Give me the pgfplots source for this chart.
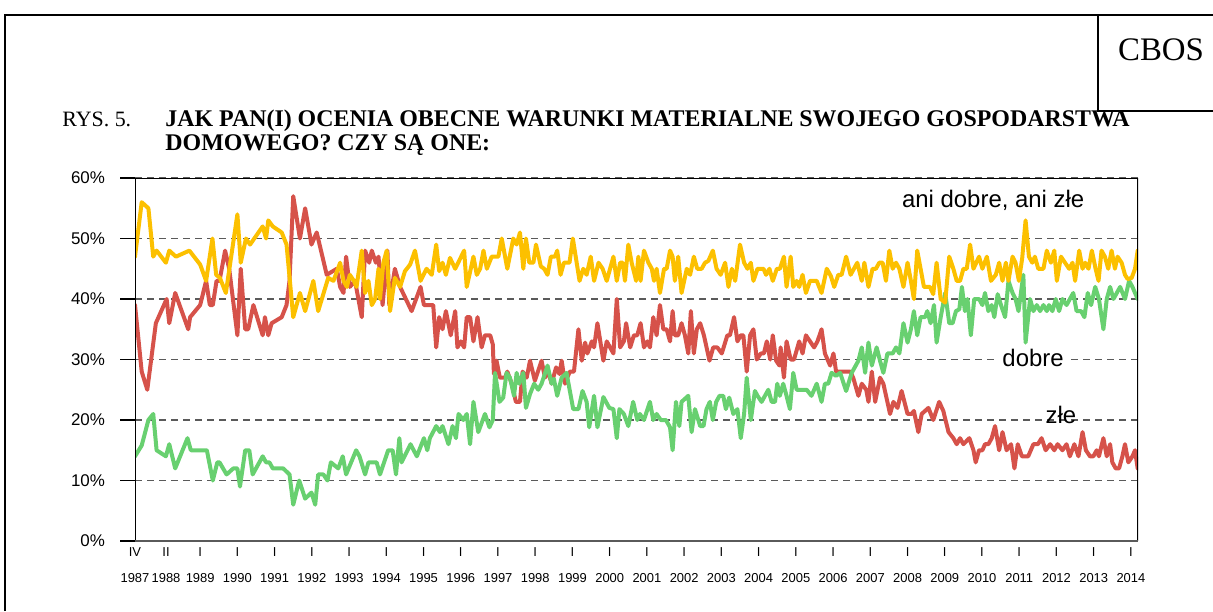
\documentclass[border=0pt]{standalone}
\usepackage{fontspec}
\setmainfont{Liberation Sans}
\newfontfamily\timesfont{Liberation Serif}
\usepackage{pgfplots}
\pgfplotsset{compat=1.18}
\definecolor{cyel}{RGB}{252,192,0}
\definecolor{cred}{RGB}{214,82,74}
\definecolor{cgrn}{RGB}{104,208,112}
\definecolor{cgrid}{RGB}{90,90,90}
\begin{document}
\begin{tikzpicture}[x=1bp,y=1bp]
\path[use as bounding box] (0,0) rectangle (606.5,305.5);
\draw[line width=1.2bp] (2.5,0) -- (2.5,298) -- (606.5,298);
\draw[line width=1.2bp] (549,298) -- (549,250) -- (606.5,250);
\node[font=\timesfont\fontsize{16.5}{18}\selectfont] at (580.5,280.5) {CBOS};
\node[anchor=base west, inner sep=0pt, font=\timesfont\fontsize{11}{13}\selectfont] at (31,242.5) {RYS. 5.};
\node[anchor=base west, inner sep=0pt, font=\timesfont\bfseries\fontsize{12}{13}\selectfont] at (82.5,242.5) {JAK PAN(I) OCENIA OBECNE WARUNKI MATERIALNE SWOJEGO GOSPODARSTWA};
\node[anchor=base west, inner sep=0pt, font=\timesfont\bfseries\fontsize{12}{13}\selectfont] at (82.5,230.5) {DOMOWEGO? CZY SĄ ONE:};
\begin{axis}[
  at={(67.5bp,35bp)}, anchor=south west, scale only axis,
  width=501.5bp, height=181.5bp,
  xmin=1987.25, xmax=2014.19, ymin=0, ymax=60,
  axis line style={draw=none},
  ytick={0,10,20,30,40,50,60},
  yticklabels={0\%,10\%,20\%,30\%,40\%,50\%,60\%},
  yticklabel style={font=\fontsize{8.5}{10}\selectfont, xshift=-4bp},
  ytick pos=left, xtick pos=bottom,
  tick align=outside, major tick length=7.5bp,
  ytick style={black, line width=0.8bp},
  xtick style={draw=none},
  xtick={1987.25,1988.083,1989,1990,1991,1992,1993,1994,1995,1996,1997,1998,1999,2000,2001,2002,2003,2004,2005,2006,2007,2008,2009,2010,2011,2012,2013,2014},
  xticklabels={{IV\\1987},{II\\1988},{I\\1989},{I\\1990},{I\\1991},{I\\1992},{I\\1993},{I\\1994},{I\\1995},{I\\1996},{I\\1997},{I\\1998},{I\\1999},{I\\2000},{I\\2001},{I\\2002},{I\\2003},{I\\2004},{I\\2005},{I\\2006},{I\\2007},{I\\2008},{I\\2009},{I\\2010},{I\\2011},{I\\2012},{I\\2013},{I\\2014}},
  xticklabel style={font=\fontsize{6.5}{13}\selectfont, align=center, yshift=7.5bp},
  ymajorgrids, grid style={cgrid, line width=0.6bp, dash pattern=on 3.5bp off 2.5bp},
  every axis plot/.append style={line width=2bp, line join=round, line cap=round, mark=none},
]
\addplot[cred] coordinates {(1987.25,39)(1987.43,28)(1987.58,25)(1987.81,36)(1988.10,40)(1988.17,36)(1988.33,41)(1988.68,35)(1988.73,37)(1989.00,39)(1989.16,43)(1989.26,39)(1989.34,39)(1989.44,43)(1989.52,43)(1989.67,48)(1989.78,45)(1990.00,34)(1990.09,45)(1990.21,35)(1990.29,35)(1990.43,39)(1990.68,34)(1990.74,37)(1990.83,34)(1990.92,36)(1991.19,37)(1991.32,39)(1991.40,43)(1991.50,57)(1991.68,50)(1991.82,55)(1991.99,49)(1992.13,51)(1992.40,44)(1992.67,45)(1992.76,42)(1992.85,41)(1992.92,47)(1993.02,42)(1993.16,43)(1993.34,37)(1993.43,48)(1993.54,46)(1993.61,48)(1993.72,46)(1993.79,47)(1993.90,39)(1994.03,48)(1994.08,39)(1994.23,45)(1994.37,42)(1994.68,38)(1994.92,42)(1995.01,39)(1995.26,39)(1995.34,32)(1995.42,37)(1995.51,35)(1995.60,38)(1995.73,34)(1995.85,38)(1995.91,32)(1996.00,33)(1996.09,32)(1996.16,37)(1996.25,37)(1996.34,33)(1996.45,37)(1996.56,32)(1996.65,34)(1996.79,34)(1996.86,32.5)(1996.89,27.6)(1996.96,29.8)(1997.05,27)(1997.19,27)(1997.25,28)(1997.37,26)(1997.48,23)(1997.59,23)(1997.66,28)(1997.77,27)(1997.86,29.8)(1997.99,26.5)(1998.17,29.8)(1998.26,27)(1998.35,28)(1998.44,26)(1998.56,28.7)(1998.65,27.6)(1998.71,29.8)(1998.80,26)(1998.86,27)(1998.93,28)(1999.04,28)(1999.16,35)(1999.25,29.8)(1999.34,32.8)(1999.40,31)(1999.52,33)(1999.58,32)(1999.67,36)(1999.83,29.8)(1999.92,33)(2000.01,32)(2000.10,31)(2000.19,40)(2000.28,32)(2000.38,33)(2000.44,36)(2000.55,32)(2000.65,34)(2000.74,34)(2000.83,36)(2000.92,32)(2001.01,33)(2001.08,32)(2001.17,37)(2001.26,34)(2001.35,39)(2001.44,35)(2001.53,35)(2001.62,33)(2001.69,38)(2001.75,34)(2001.84,34)(2001.93,36)(2002.02,34)(2002.11,31)(2002.18,38)(2002.26,31)(2002.34,35)(2002.43,36)(2002.53,34)(2002.68,29.8)(2002.78,32)(2002.89,32)(2003.01,31)(2003.16,34)(2003.23,34)(2003.34,37)(2003.43,33)(2003.52,34)(2003.59,34)(2003.68,28)(2003.77,34)(2003.86,35)(2003.95,30)(2004.06,31)(2004.14,31)(2004.22,33)(2004.31,30)(2004.38,34)(2004.47,29.8)(2004.56,29)(2004.59,32)(2004.68,27)(2004.75,33)(2004.86,30)(2004.95,30)(2005.09,33)(2005.18,31)(2005.27,34)(2005.38,33)(2005.49,32)(2005.58,33)(2005.69,35)(2005.78,31)(2005.92,29)(2006.01,31)(2006.08,28)(2006.19,28)(2006.46,28)(2006.54,27)(2006.68,24)(2006.77,26)(2006.89,25)(2006.95,23)(2007.04,28)(2007.13,23)(2007.26,27)(2007.35,26)(2007.53,21)(2007.62,23)(2007.73,22)(2007.84,24.8)(2008.00,21)(2008.11,21)(2008.17,21.5)(2008.29,18)(2008.38,21)(2008.56,22)(2008.69,20)(2008.85,23)(2008.96,21.5)(2009.10,18)(2009.23,17)(2009.32,16)(2009.41,17)(2009.50,16)(2009.66,17)(2009.77,15)(2009.83,13)(2009.92,15)(2010.01,15)(2010.08,16)(2010.17,16)(2010.26,17)(2010.35,19)(2010.46,15)(2010.55,18)(2010.66,15)(2010.78,16)(2010.87,12)(2010.96,16)(2011.07,14)(2011.24,14)(2011.38,16)(2011.50,16)(2011.60,17)(2011.71,15)(2011.83,16)(2011.94,15)(2012.03,16)(2012.16,15)(2012.27,16)(2012.36,14)(2012.48,16)(2012.59,14)(2012.70,18)(2012.79,15)(2012.90,14)(2012.99,14)(2013.08,15)(2013.14,14)(2013.26,17)(2013.35,14)(2013.44,16)(2013.50,13)(2013.59,12)(2013.68,12)(2013.77,14)(2013.84,16)(2013.93,13)(2014.04,14)(2014.11,15)(2014.18,12)};
\addplot[cgrn] coordinates {(1987.25,14)(1987.43,15.8)(1987.61,20)(1987.74,21)(1987.83,15)(1988.08,14)(1988.17,16)(1988.33,12)(1988.66,17)(1988.75,15)(1989.18,15)(1989.34,10)(1989.46,13)(1989.52,13)(1989.71,11)(1989.89,12)(1990.00,12)(1990.07,9)(1990.21,15)(1990.32,15)(1990.41,11)(1990.68,14)(1990.77,13)(1990.86,13)(1990.95,12)(1991.23,12)(1991.40,11)(1991.50,6)(1991.66,10)(1991.82,7)(1991.99,8)(1992.09,6)(1992.17,11)(1992.31,11)(1992.42,10)(1992.51,13)(1992.71,12)(1992.83,14)(1992.92,11)(1993.19,15)(1993.28,14)(1993.43,11)(1993.52,13)(1993.74,13)(1993.83,11)(1994.05,15)(1994.17,15)(1994.26,11)(1994.35,17)(1994.41,13)(1994.65,16)(1994.82,14)(1995.01,17)(1995.10,15)(1995.17,17)(1995.34,19)(1995.44,18)(1995.51,19)(1995.67,16)(1995.78,19)(1995.87,17)(1995.94,21)(1996.07,20)(1996.16,21)(1996.25,16)(1996.34,23)(1996.47,18)(1996.65,21)(1996.77,18.8)(1996.86,20)(1996.92,27.8)(1997.04,23)(1997.14,23.7)(1997.23,27.8)(1997.32,27)(1997.43,24)(1997.50,27.8)(1997.57,26)(1997.68,27.8)(1997.75,22)(1997.86,24.3)(1997.97,26)(1998.08,25)(1998.17,26)(1998.33,29)(1998.44,26)(1998.50,26.8)(1998.59,24)(1998.71,27)(1998.84,27.8)(1999.02,21.8)(1999.16,21.8)(1999.27,24.8)(1999.38,23)(1999.45,18.8)(1999.58,24)(1999.67,18.8)(1999.83,23.8)(1999.99,22)(2000.10,21.8)(2000.19,17)(2000.26,21.8)(2000.38,21)(2000.50,19)(2000.63,23)(2000.74,20)(2000.81,21)(2000.92,20)(2001.08,23)(2001.17,20)(2001.26,21)(2001.37,20)(2001.51,20)(2001.62,18.8)(2001.69,15)(2001.78,23)(2001.87,19)(2001.93,23)(2002.11,24)(2002.20,18)(2002.29,21.8)(2002.43,19)(2002.52,19)(2002.60,21.8)(2002.69,23)(2002.77,20)(2002.86,23)(2002.95,24)(2003.05,24)(2003.12,21.8)(2003.21,23.7)(2003.32,21)(2003.43,21.8)(2003.52,17)(2003.61,21)(2003.68,27)(2003.79,20)(2003.90,24.8)(2003.97,24)(2004.08,23)(2004.26,25)(2004.35,23)(2004.44,23)(2004.50,26)(2004.57,24)(2004.66,26)(2004.75,24)(2004.84,21.8)(2004.93,27.8)(2005.02,25)(2005.29,25)(2005.42,24)(2005.56,26)(2005.69,23)(2005.78,26)(2005.87,26)(2005.96,27.8)(2006.08,27.3)(2006.19,27.8)(2006.35,24.8)(2006.50,27.8)(2006.68,29.8)(2006.77,32)(2006.86,27.8)(2006.95,32.8)(2007.04,29)(2007.17,32)(2007.26,29.8)(2007.35,27.8)(2007.46,31)(2007.60,31)(2007.69,32)(2007.78,31)(2007.89,36)(2008.00,32.8)(2008.09,35)(2008.17,38)(2008.26,34)(2008.35,37)(2008.47,37)(2008.53,38)(2008.62,36)(2008.71,39)(2008.78,32.8)(2008.89,37)(2009.01,41)(2009.12,36)(2009.21,36)(2009.30,38)(2009.39,38.3)(2009.46,42)(2009.54,38)(2009.61,40)(2009.70,34)(2009.79,40)(2009.92,40)(2010.01,39)(2010.08,41)(2010.17,38)(2010.26,39)(2010.33,37)(2010.42,40.8)(2010.51,39)(2010.62,37)(2010.71,43)(2010.82,41)(2010.90,40)(2010.98,38)(2011.11,44)(2011.17,32.8)(2011.29,40)(2011.38,38)(2011.47,39)(2011.56,38)(2011.65,39)(2011.74,38)(2011.80,39)(2011.89,38)(2011.98,40)(2012.07,38)(2012.16,40)(2012.27,39)(2012.36,40)(2012.45,41)(2012.54,38)(2012.66,38)(2012.75,37)(2012.84,41)(2012.93,39)(2013.04,42)(2013.14,40)(2013.26,35)(2013.35,40)(2013.44,42)(2013.53,40)(2013.62,41)(2013.71,42)(2013.84,40)(2013.95,43)(2014.04,42)(2014.18,40)};
\addplot[cyel] coordinates {(1987.25,47)(1987.43,56)(1987.61,55)(1987.74,47)(1987.83,48)(1988.08,46)(1988.17,48)(1988.35,47)(1988.71,48)(1989.00,45.7)(1989.16,43)(1989.33,50)(1989.43,44)(1989.53,43.5)(1989.69,41)(1990.00,54)(1990.09,46)(1990.23,50)(1990.34,49)(1990.68,52)(1990.77,50)(1990.83,53)(1990.95,52)(1991.19,51)(1991.32,49)(1991.50,37)(1991.68,41)(1991.82,38)(1992.04,43)(1992.17,38)(1992.44,43.5)(1992.58,43)(1992.76,46)(1992.85,43)(1992.94,42)(1993.02,44)(1993.13,43)(1993.20,42)(1993.34,48)(1993.43,41)(1993.52,43)(1993.61,39)(1993.70,40)(1993.79,45)(1993.83,40)(1993.92,46)(1994.01,48)(1994.10,38)(1994.23,43.5)(1994.37,42)(1994.50,44.6)(1994.64,45.7)(1994.77,48)(1994.92,43)(1995.08,45)(1995.22,44)(1995.34,49)(1995.42,44.6)(1995.51,46)(1995.60,44)(1995.71,46.8)(1995.85,45)(1996.09,48)(1996.16,42)(1996.34,47)(1996.43,44)(1996.52,45)(1996.61,48)(1996.70,45)(1996.83,47)(1997.01,47)(1997.10,50)(1997.25,45)(1997.41,50)(1997.50,49)(1997.59,51)(1997.68,45)(1997.75,50)(1997.84,46)(1997.95,46)(1998.02,49)(1998.15,45.4)(1998.24,45)(1998.33,44)(1998.42,47)(1998.53,47)(1998.59,48)(1998.68,44)(1998.77,46)(1998.92,46)(1999.01,50)(1999.19,43)(1999.29,45)(1999.38,44)(1999.49,47)(1999.58,43)(1999.70,46)(1999.81,45)(1999.92,43)(2000.10,47)(2000.19,43)(2000.28,46)(2000.35,46)(2000.41,43)(2000.50,49)(2000.59,46)(2000.71,43)(2000.77,47)(2000.83,43)(2000.92,48)(2001.04,46)(2001.13,45)(2001.19,43)(2001.26,45)(2001.35,41)(2001.46,45)(2001.53,45)(2001.62,48)(2001.69,47)(2001.75,43)(2001.84,47)(2001.93,41)(2002.07,45)(2002.16,44)(2002.26,47)(2002.35,45)(2002.47,45)(2002.56,46)(2002.65,46.3)(2002.77,48)(2002.87,45)(2002.98,44)(2003.10,46)(2003.19,42)(2003.28,45)(2003.37,43)(2003.50,49)(2003.61,46)(2003.70,45)(2003.79,46)(2003.86,43)(2003.97,45)(2004.13,45)(2004.20,44)(2004.29,45)(2004.38,43)(2004.49,45)(2004.57,45)(2004.68,47)(2004.75,42)(2004.86,47)(2004.93,42)(2005.02,43)(2005.09,42)(2005.18,44)(2005.27,41)(2005.38,43)(2005.56,43)(2005.69,41)(2005.83,45)(2005.94,43.8)(2006.03,42)(2006.14,44)(2006.23,44)(2006.35,47)(2006.47,44)(2006.56,45)(2006.65,46)(2006.77,43)(2006.84,46)(2006.95,42)(2007.06,45)(2007.15,45)(2007.24,46)(2007.33,46)(2007.42,43)(2007.51,48)(2007.60,45)(2007.69,46)(2007.78,45)(2007.89,42)(2008.00,46)(2008.09,43)(2008.17,40)(2008.26,48)(2008.35,45)(2008.44,42)(2008.60,42)(2008.69,40.8)(2008.78,46)(2008.89,40)(2009.01,39.4)(2009.12,47)(2009.23,45)(2009.32,43)(2009.41,43)(2009.50,45)(2009.59,45)(2009.68,49)(2009.77,45)(2009.92,47)(2010.01,45)(2010.13,47)(2010.24,43)(2010.37,44)(2010.46,46)(2010.55,43)(2010.64,46)(2010.71,43)(2010.82,47)(2010.90,46)(2010.99,43)(2011.08,46.8)(2011.17,53)(2011.26,47)(2011.35,46)(2011.42,47)(2011.51,45)(2011.65,45)(2011.74,48)(2011.85,46)(2011.94,48)(2012.01,43)(2012.12,47)(2012.23,46)(2012.34,45)(2012.43,46)(2012.50,43)(2012.61,48)(2012.70,45)(2012.77,46)(2012.86,45)(2012.95,48)(2013.05,45)(2013.13,43)(2013.21,48)(2013.30,47)(2013.39,45)(2013.48,48)(2013.57,45)(2013.64,47)(2013.75,46)(2013.84,44)(2013.91,43.3)(2014.02,43.5)(2014.11,45)(2014.18,48)};
\draw[black, line width=1bp] (rel axis cs:0,0) -- (rel axis cs:0,1) -- (rel axis cs:1,1) -- (rel axis cs:1,0);
\draw[cgrid, line width=1.5bp] (rel axis cs:0,0) -- (rel axis cs:1,0);
\node[font=\fontsize{12}{14}\selectfont] at (axis cs:2010.30,56.3) {ani dobre, ani złe};
\node[font=\fontsize{12}{14}\selectfont, fill=white, inner sep=1.5bp] at (axis cs:2011.37,30.3) {dobre};
\node[font=\fontsize{12}{14}\selectfont, inner sep=1bp] at (axis cs:2012.12,20.9) {złe};
\end{axis}
\end{tikzpicture}
\end{document}
